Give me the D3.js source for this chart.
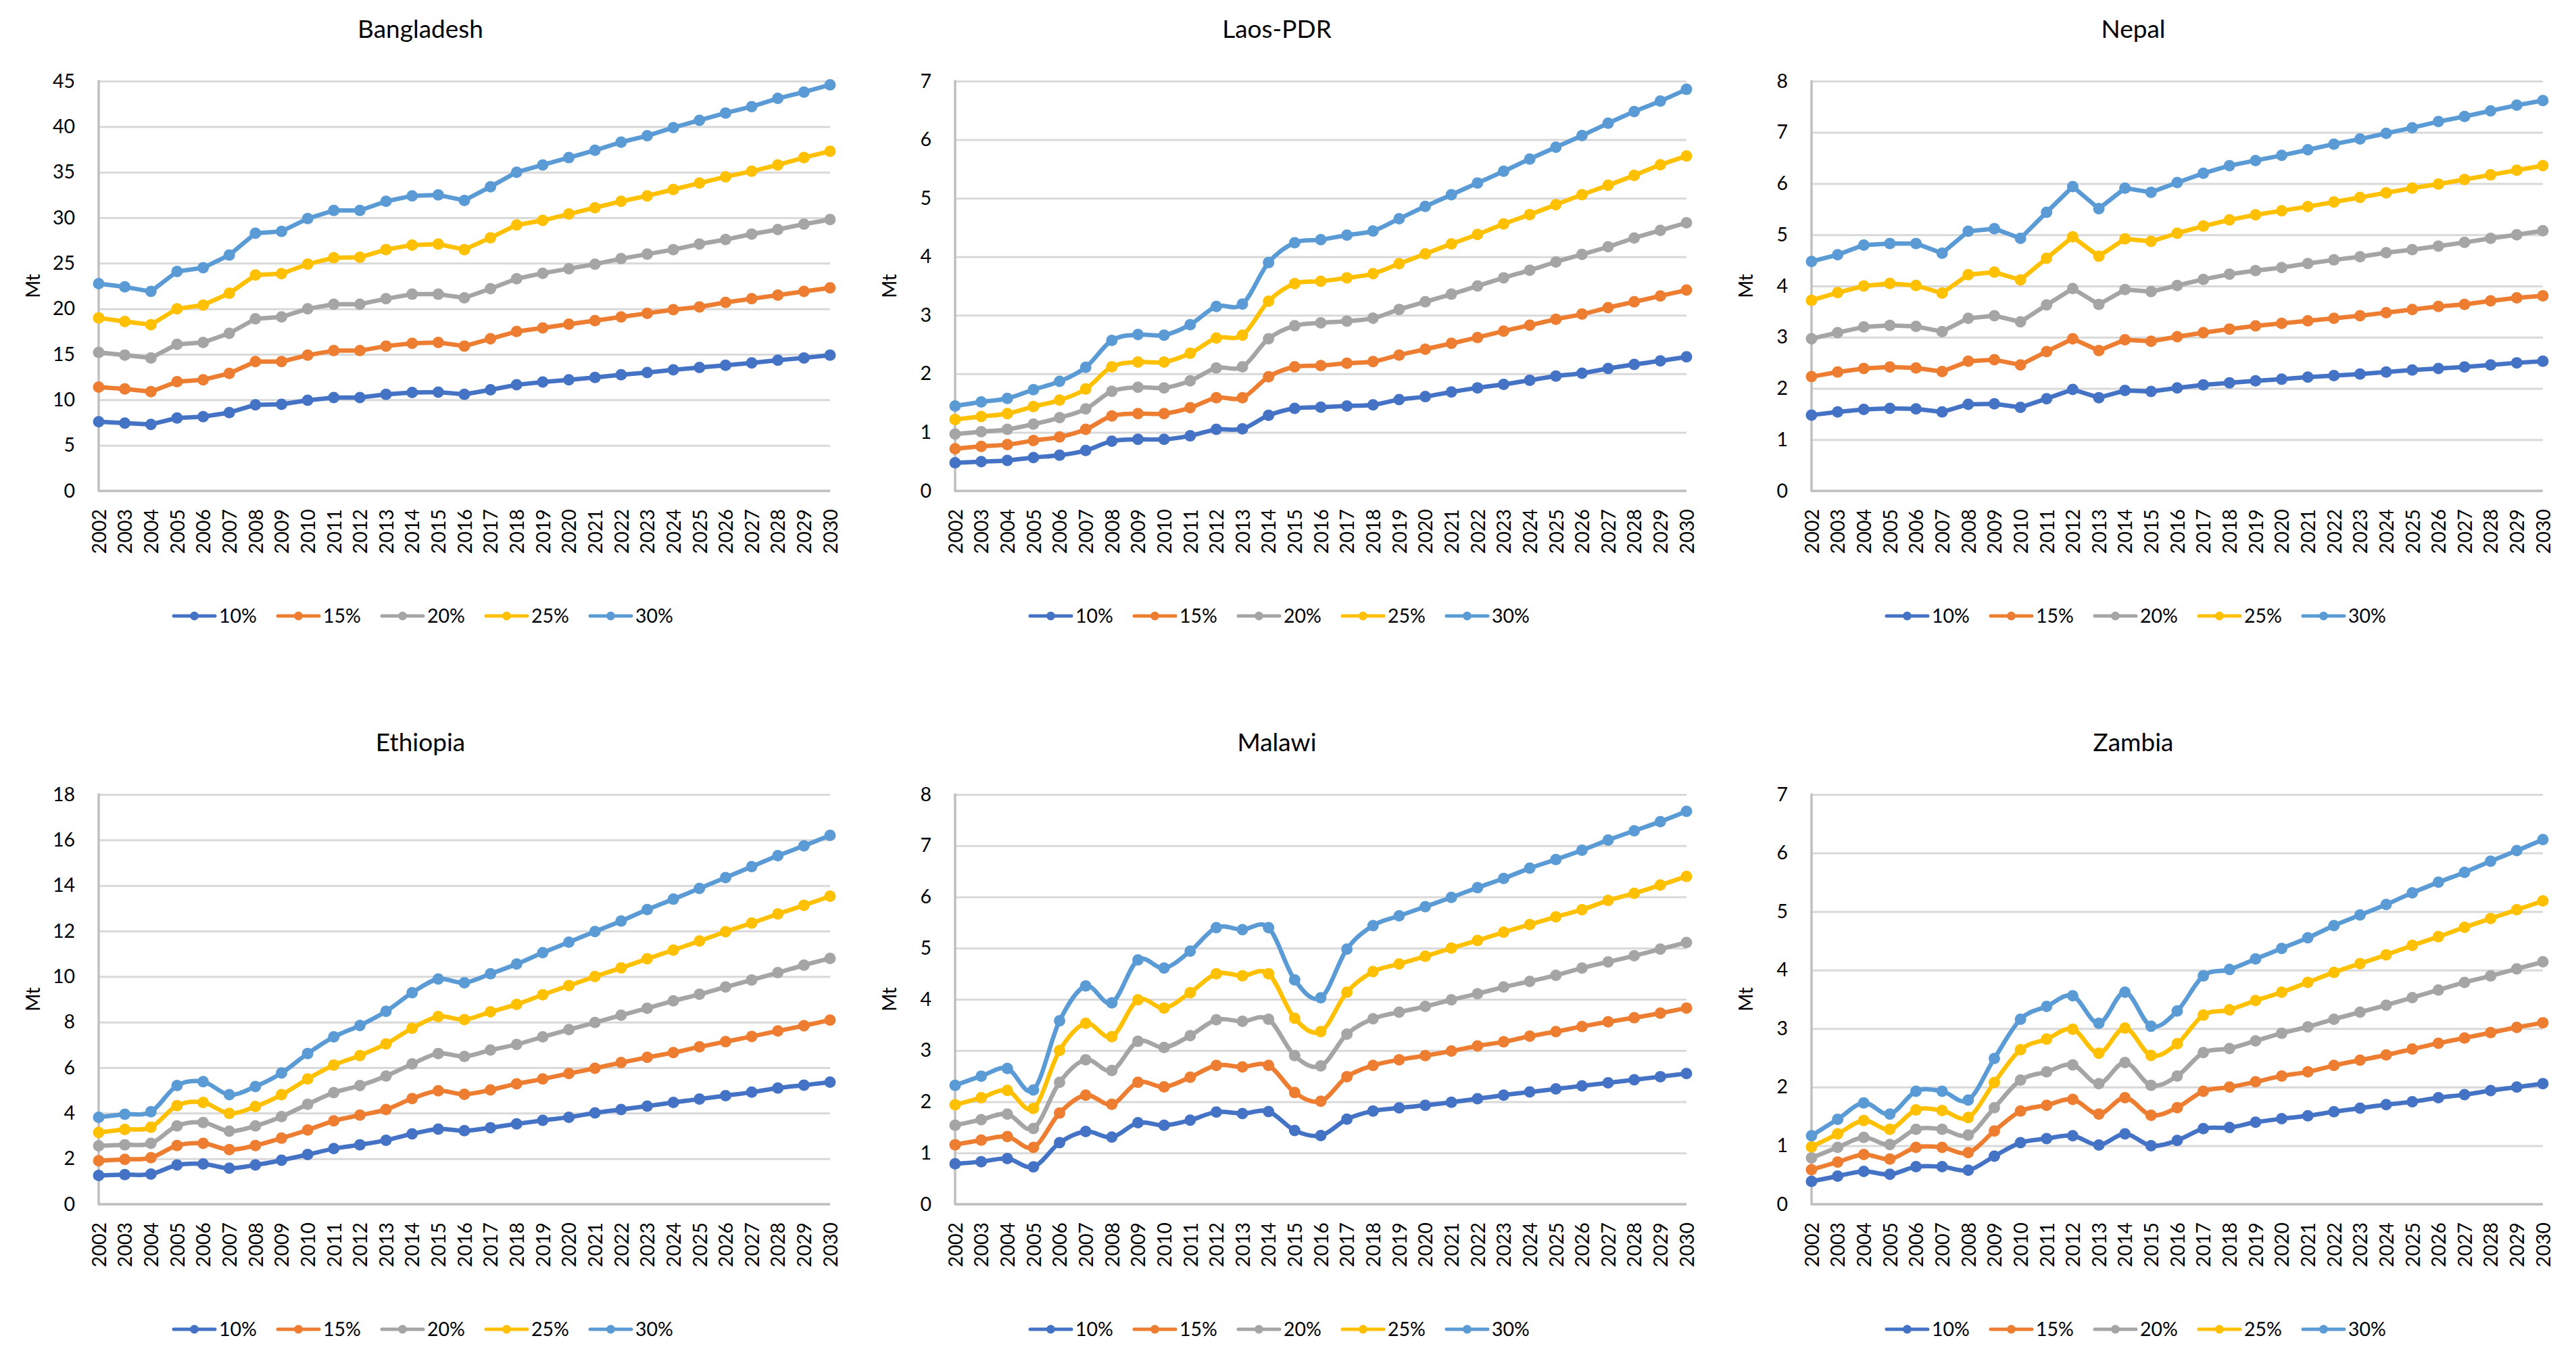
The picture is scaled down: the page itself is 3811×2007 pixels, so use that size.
<!DOCTYPE html>
<html>
<head>
<meta charset="utf-8">
<script src="https://cdn.jsdelivr.net/npm/d3@7"></script>
<style>
  body { margin: 0; background: #fff; }
  text { font-family: Lato, "Open Sans", sans-serif; fill: #000; }
</style>
</head>
<body>
<div id="chart"></div>
<script>
// categories / labels
var years = ["2002","2003","2004","2005","2006","2007","2008","2009","2010","2011","2012","2013","2014","2015",
             "2016","2017","2018","2019","2020","2021","2022","2023","2024","2025","2026","2027","2028","2029","2030"];
var seriesNames = ["10%", "15%", "20%", "25%", "30%"];
var seriesColors = ["#4472C4", "#ED7D31", "#A5A5A5", "#FFC000", "#5B9BD5"];

var countries = ["Bangladesh", "Laos-PDR", "Nepal", "Ethiopia", "Malawi", "Zambia"];
var yMax  = [45, 7, 8, 18, 8, 7];
var yStep = [5, 1, 1, 2, 1, 1];
var smoothed = [false, true, false, true, true, true];

// values (Mt), one row per series 10%..30%
var bangladesh = [
  [7.6,7.45,7.3,8.0,8.15,8.6,9.45,9.5,9.95,10.25,10.25,10.6,10.8,10.85,10.6,11.1,11.65,11.95,12.2,12.45,12.75,13.0,13.3,13.55,13.8,14.05,14.35,14.6,14.9],
  [11.4,11.2,10.9,12.0,12.2,12.9,14.2,14.2,14.9,15.4,15.4,15.9,16.2,16.3,15.9,16.7,17.5,17.9,18.3,18.7,19.1,19.5,19.9,20.2,20.7,21.1,21.5,21.9,22.3],
  [15.2,14.9,14.6,16.1,16.3,17.3,18.9,19.1,20.0,20.5,20.5,21.1,21.6,21.6,21.2,22.2,23.3,23.9,24.4,24.9,25.5,26.0,26.5,27.1,27.6,28.2,28.7,29.3,29.8],
  [19.0,18.6,18.25,20.0,20.4,21.7,23.7,23.85,24.9,25.6,25.65,26.5,27.0,27.1,26.5,27.8,29.2,29.7,30.4,31.1,31.8,32.4,33.1,33.8,34.5,35.1,35.8,36.6,37.3],
  [22.76,22.4,21.9,24.1,24.5,25.9,28.3,28.5,29.9,30.8,30.8,31.8,32.4,32.5,31.9,33.4,35.0,35.8,36.6,37.4,38.3,39.0,39.9,40.7,41.5,42.2,43.1,43.8,44.6]
];
var laos = [
  [0.48,0.50,0.52,0.57,0.61,0.69,0.85,0.88,0.88,0.94,1.05,1.06,1.29,1.41,1.43,1.45,1.47,1.56,1.61,1.69,1.76,1.82,1.89,1.96,2.01,2.09,2.16,2.22,2.29],
  [0.72,0.76,0.79,0.86,0.92,1.05,1.28,1.32,1.32,1.42,1.59,1.59,1.95,2.12,2.14,2.18,2.21,2.32,2.42,2.52,2.62,2.73,2.83,2.93,3.02,3.13,3.23,3.33,3.43],
  [0.97,1.01,1.05,1.14,1.25,1.40,1.70,1.77,1.76,1.88,2.10,2.12,2.60,2.82,2.87,2.90,2.95,3.10,3.23,3.36,3.50,3.64,3.77,3.91,4.04,4.17,4.32,4.45,4.58],
  [1.22,1.27,1.32,1.44,1.55,1.74,2.12,2.20,2.20,2.35,2.61,2.66,3.24,3.54,3.58,3.64,3.71,3.88,4.05,4.22,4.38,4.56,4.72,4.89,5.06,5.22,5.39,5.57,5.72],
  [1.45,1.52,1.58,1.73,1.87,2.11,2.57,2.67,2.66,2.84,3.15,3.19,3.90,4.24,4.29,4.37,4.44,4.65,4.86,5.06,5.26,5.46,5.67,5.87,6.07,6.28,6.48,6.66,6.86]
];
var nepal = [
  [1.48,1.54,1.59,1.61,1.60,1.54,1.69,1.70,1.63,1.80,1.98,1.82,1.96,1.94,2.01,2.07,2.11,2.15,2.18,2.22,2.25,2.28,2.32,2.36,2.39,2.42,2.46,2.50,2.53],
  [2.23,2.32,2.39,2.42,2.40,2.33,2.53,2.56,2.46,2.72,2.97,2.74,2.95,2.92,3.01,3.09,3.16,3.22,3.27,3.32,3.37,3.42,3.48,3.54,3.60,3.64,3.71,3.77,3.81],
  [2.97,3.09,3.20,3.23,3.21,3.11,3.37,3.42,3.30,3.63,3.95,3.64,3.93,3.89,4.01,4.13,4.23,4.30,4.36,4.44,4.51,4.57,4.65,4.71,4.78,4.85,4.93,5.00,5.08],
  [3.72,3.87,4.00,4.05,4.01,3.86,4.22,4.27,4.12,4.54,4.96,4.58,4.92,4.87,5.03,5.17,5.29,5.39,5.47,5.55,5.64,5.73,5.82,5.91,5.99,6.08,6.17,6.26,6.35],
  [4.48,4.61,4.80,4.83,4.83,4.64,5.07,5.12,4.93,5.44,5.94,5.51,5.91,5.83,6.02,6.20,6.35,6.45,6.55,6.66,6.77,6.87,6.98,7.09,7.21,7.31,7.42,7.53,7.62]
];
var ethiopia = [
  [1.26,1.30,1.32,1.72,1.77,1.58,1.72,1.93,2.18,2.44,2.61,2.81,3.09,3.30,3.23,3.36,3.53,3.68,3.82,4.01,4.16,4.31,4.47,4.62,4.77,4.92,5.10,5.23,5.36],
  [1.91,1.97,2.04,2.58,2.67,2.40,2.58,2.90,3.26,3.66,3.91,4.16,4.64,4.98,4.83,5.02,5.29,5.50,5.74,5.97,6.22,6.45,6.66,6.91,7.14,7.37,7.61,7.84,8.09],
  [2.56,2.61,2.67,3.44,3.59,3.21,3.44,3.85,4.39,4.90,5.21,5.63,6.16,6.62,6.49,6.77,7.02,7.35,7.67,7.98,8.30,8.61,8.93,9.22,9.54,9.85,10.17,10.50,10.80],
  [3.15,3.28,3.38,4.33,4.47,3.99,4.29,4.81,5.50,6.11,6.53,7.04,7.73,8.24,8.11,8.45,8.78,9.20,9.60,10.00,10.38,10.78,11.16,11.56,11.97,12.35,12.75,13.13,13.53],
  [3.82,3.95,4.06,5.21,5.38,4.81,5.17,5.76,6.62,7.35,7.85,8.47,9.29,9.89,9.73,10.12,10.55,11.05,11.51,11.98,12.44,12.94,13.40,13.87,14.35,14.83,15.31,15.74,16.20]
];
var malawi = [
  [0.79,0.83,0.89,0.73,1.20,1.42,1.31,1.59,1.54,1.64,1.80,1.77,1.81,1.44,1.34,1.66,1.82,1.88,1.93,1.99,2.06,2.13,2.19,2.25,2.31,2.37,2.43,2.49,2.55],
  [1.16,1.25,1.32,1.11,1.78,2.13,1.95,2.38,2.29,2.48,2.71,2.68,2.71,2.18,2.01,2.49,2.71,2.82,2.90,2.99,3.09,3.17,3.28,3.37,3.47,3.56,3.64,3.73,3.83],
  [1.54,1.65,1.76,1.48,2.38,2.82,2.61,3.18,3.06,3.29,3.60,3.57,3.61,2.90,2.70,3.32,3.62,3.75,3.86,3.99,4.11,4.24,4.35,4.47,4.61,4.73,4.85,4.98,5.11],
  [1.94,2.08,2.22,1.87,3.00,3.53,3.27,3.99,3.83,4.13,4.50,4.46,4.50,3.63,3.37,4.14,4.54,4.69,4.84,5.00,5.15,5.31,5.46,5.61,5.75,5.93,6.07,6.23,6.40],
  [2.32,2.50,2.65,2.23,3.58,4.26,3.93,4.77,4.61,4.94,5.40,5.36,5.40,4.38,4.03,4.98,5.44,5.63,5.81,5.99,6.18,6.36,6.56,6.73,6.91,7.11,7.29,7.47,7.67]
];
var zambia = [
  [0.39,0.48,0.56,0.51,0.64,0.64,0.58,0.82,1.05,1.12,1.17,1.01,1.20,1.00,1.09,1.29,1.31,1.40,1.46,1.51,1.58,1.64,1.70,1.75,1.82,1.87,1.94,2.00,2.06],
  [0.59,0.72,0.85,0.77,0.97,0.97,0.88,1.25,1.59,1.69,1.79,1.54,1.82,1.52,1.65,1.93,2.00,2.09,2.19,2.26,2.37,2.46,2.55,2.65,2.75,2.84,2.93,3.02,3.10],
  [0.79,0.97,1.14,1.02,1.28,1.28,1.18,1.65,2.12,2.26,2.38,2.06,2.42,2.03,2.19,2.59,2.66,2.79,2.92,3.03,3.16,3.28,3.40,3.53,3.66,3.79,3.90,4.02,4.14],
  [0.98,1.20,1.43,1.28,1.61,1.60,1.48,2.08,2.64,2.82,2.99,2.58,3.01,2.54,2.74,3.23,3.32,3.48,3.62,3.79,3.96,4.11,4.26,4.42,4.57,4.73,4.88,5.03,5.18],
  [1.17,1.45,1.73,1.54,1.93,1.93,1.78,2.49,3.16,3.38,3.56,3.09,3.62,3.04,3.30,3.90,4.01,4.19,4.37,4.55,4.76,4.94,5.12,5.32,5.50,5.67,5.86,6.04,6.23]
];
var countryData = [bangladesh, laos, nepal, ethiopia, malawi, zambia];

var W = 3811, H = 2007;
var panelW = 1267, panelH = 1055;
var plotLeft = 146, plotRight = 1228, plotTop = 120, plotBottom = 726;

var svg = d3.select("#chart").append("svg")
    .attr("width", W)
    .attr("height", H)
    .style("background", "#fff");

countries.forEach(function(name, i) {
    var col = i % 3, row = Math.floor(i / 3);
    var g = svg.append("g")
        .attr("transform", "translate(" + (col * panelW) + "," + (row * panelH) + ")");

    var xScale = d3.scalePoint().domain(years).range([plotLeft, plotRight]);
    var yScale = d3.scaleLinear().domain([0, yMax[i]]).range([plotBottom, plotTop]);
    var ticks = d3.range(0, yMax[i] + yStep[i] / 2, yStep[i]);

    // gridlines + y labels
    var yAxis = d3.axisLeft(yScale)
        .tickValues(ticks)
        .tickSize(-(plotRight - plotLeft))
        .tickPadding(35)
        .tickFormat(d3.format("d"));
    var yAxisG = g.append("g")
        .attr("transform", "translate(" + plotLeft + ",0)")
        .call(yAxis);
    yAxisG.select(".domain").remove();
    yAxisG.selectAll(".tick line")
        .attr("stroke", "#d9d9d9")
        .attr("stroke-width", 3);
    yAxisG.selectAll(".tick text")
        .style("font-size", "28.5px")
        .style("font-family", "Lato, sans-serif");

    // axis lines
    g.append("line")
        .attr("x1", plotLeft).attr("x2", plotLeft)
        .attr("y1", plotTop - 1.5).attr("y2", plotBottom + 1.5)
        .attr("stroke", "#bfbfbf").attr("stroke-width", 3.5);
    g.append("line")
        .attr("x1", plotLeft).attr("x2", plotRight)
        .attr("y1", plotBottom).attr("y2", plotBottom)
        .attr("stroke", "#bfbfbf").attr("stroke-width", 3.5);

    // x labels, rotated
    var xAxis = d3.axisBottom(xScale).tickSize(0).tickPadding(0);
    var xAxisG = g.append("g")
        .attr("transform", "translate(0," + plotBottom + ")")
        .call(xAxis);
    xAxisG.select(".domain").remove();
    xAxisG.selectAll(".tick text")
        .attr("transform", "rotate(-90)")
        .attr("x", -27)
        .attr("y", 0)
        .attr("dy", "0.36em")
        .style("text-anchor", "end")
        .style("font-size", "28.5px")
        .style("font-family", "Lato, sans-serif");

    // title
    g.append("text")
        .attr("x", 622)
        .attr("y", 56)
        .attr("text-anchor", "middle")
        .style("font-size", "37px")
        .text(name);

    // y label
    g.append("text")
        .attr("transform", "translate(49," + ((plotTop + plotBottom) / 2) + ") rotate(-90)")
        .attr("text-anchor", "middle")
        .attr("dy", "0.36em")
        .style("font-size", "28px")
        .text("Mt");

    // series
    var line = d3.line()
        .x(function(d, j) { return xScale(years[j]); })
        .y(function(d) { return yScale(d); })
        .curve(smoothed[i] ? d3.curveCardinal : d3.curveLinear);

    countryData[i].forEach(function(vals, s) {
        g.append("path")
            .datum(vals)
            .attr("d", line)
            .attr("fill", "none")
            .attr("stroke", seriesColors[s])
            .attr("stroke-width", 6.5)
            .attr("stroke-linejoin", "round");
        g.selectAll(".pt" + s)
            .data(vals)
            .enter().append("circle")
            .attr("class", "pt" + s)
            .attr("cx", function(d, j) { return xScale(years[j]); })
            .attr("cy", function(d) { return yScale(d); })
            .attr("r", 8.5)
            .attr("fill", seriesColors[s]);
    });

    // legend
    var legend = g.append("g").attr("transform", "translate(257,911)");
    seriesNames.forEach(function(lbl, s) {
        var item = legend.append("g").attr("transform", "translate(" + (s * 154) + ",0)");
        item.append("line")
            .attr("x1", 0).attr("x2", 61)
            .attr("y1", 0).attr("y2", 0)
            .attr("stroke", seriesColors[s])
            .attr("stroke-width", 5)
            .attr("stroke-linecap", "round");
        item.append("circle")
            .attr("cx", 30.5).attr("cy", 0)
            .attr("r", 6.5)
            .attr("fill", seriesColors[s]);
        item.append("text")
            .attr("x", 67)
            .attr("y", 0)
            .attr("dy", "0.36em")
            .style("font-size", "28.5px")
            .text(lbl);
    });
});
</script>
</body>
</html>
